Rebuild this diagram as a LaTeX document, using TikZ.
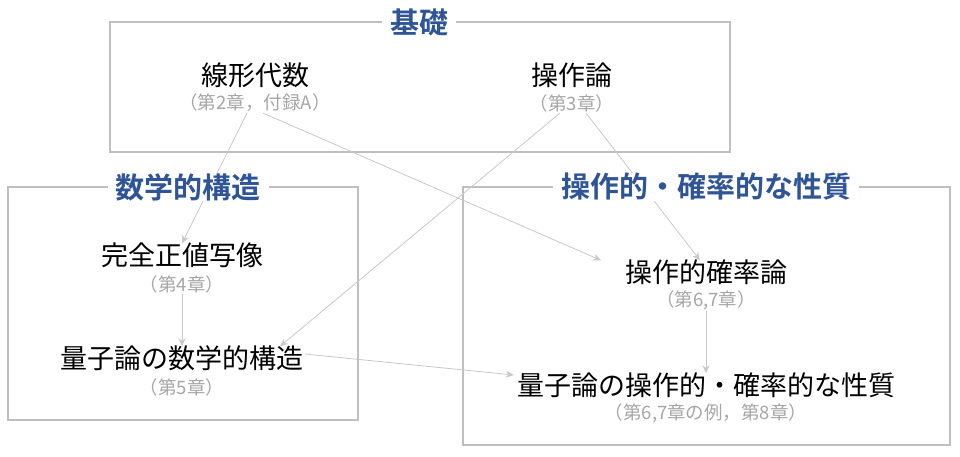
\documentclass[tikz,border=0pt]{standalone}
\usepackage{fontspec}
\setmainfont{Noto Sans CJK JP}[BoldFont={Noto Sans CJK JP Bold}]
\usetikzlibrary{arrows.meta}
\definecolor{titleblue}{HTML}{2F5597}
\definecolor{boxgray}{HTML}{BFBFBF}
\definecolor{subgray}{HTML}{A6A6A6}
\definecolor{arrowgray}{HTML}{C8C8C8}
\tikzset{
  group/.style={draw=boxgray, line width=1.5pt},
  grouptitle/.style={fill=white, text=titleblue, font=\bfseries\fontsize{29}{32}\selectfont, inner xsep=8pt, inner ysep=0pt},
  topic/.style={font=\fontsize{27}{30}\selectfont, inner sep=1pt},
  chapter/.style={text=subgray, font=\fontsize{18.5}{21}\selectfont, inner sep=1pt},
  link/.style={draw=arrowgray, line width=0.8pt, -{Stealth[length=8pt,width=7pt]}},
}
\begin{document}
\begin{tikzpicture}[x=1pt,y=-1pt]
    \useasboundingbox (0,0) rectangle (960,456);
    % boxes
    \draw[group] (110,22) rectangle (730,152);
    \draw[group] (8,187) rectangle (358,420);
    \draw[group] (463,187) rectangle (950,445);
    % topics
    \node[topic]   (linalg)     at (255, 75) {線形代数};
    \node[chapter] (linalgch)   at (255,103) {（第2章，付録A）};
    \node[topic]   (opth)       at (572, 75) {操作論};
    \node[chapter] (opthch)     at (572,103) {（第3章）};
    \node[topic]   (cpmap)      at (182,255) {完全正値写像};
    \node[chapter] (cpmapch)    at (182,284) {（第4章）};
    \node[topic]   (qmath)      at (182,358) {量子論の数学的構造};
    \node[chapter] (qmathch)    at (182,387) {（第5章）};
    \node[topic]   (opprob)     at (706,272) {操作的確率論};
    \node[chapter] (opprobch)   at (706,300) {（第6,7章）};
    \node[topic]   (qop)        at (706,385) {量子論の操作的・確率的な性質};
    \node[chapter] (qopch)      at (706,413) {（第6,7章の例，第8章）};
    % links
    \draw[link] ([xshift=-8pt]linalgch.south) -- ([yshift=-2pt]cpmap.north);
    \draw[link] ([xshift=8pt]linalgch.south) -- ([xshift=-105pt,yshift=-2pt]opprob.north);
    \draw[link] ([xshift=-12pt]opthch.south) -- ([xshift=98pt,yshift=-2pt]qmath.north);
    \draw[link] ([xshift=14pt]opthch.south) -- ([xshift=-6pt,yshift=-2pt]opprob.north);
    \draw[link] (cpmapch.south) -- ([yshift=-2pt]qmath.north);
    \draw[link] (opprobch.south) -- ([yshift=-2pt]qop.north);
    \draw[link] ([yshift=4pt]qmath.east) -- ([xshift=-2pt,yshift=10pt]qop.west);
    % titles
    \node[grouptitle] (basics)  at (419,22)  {基礎};
    \node[grouptitle] (mathgrp) at (188,187) {数学的構造};
    \node[grouptitle] (opgrp)   at (706,187) {操作的・確率的な性質};
\end{tikzpicture}
\end{document}
